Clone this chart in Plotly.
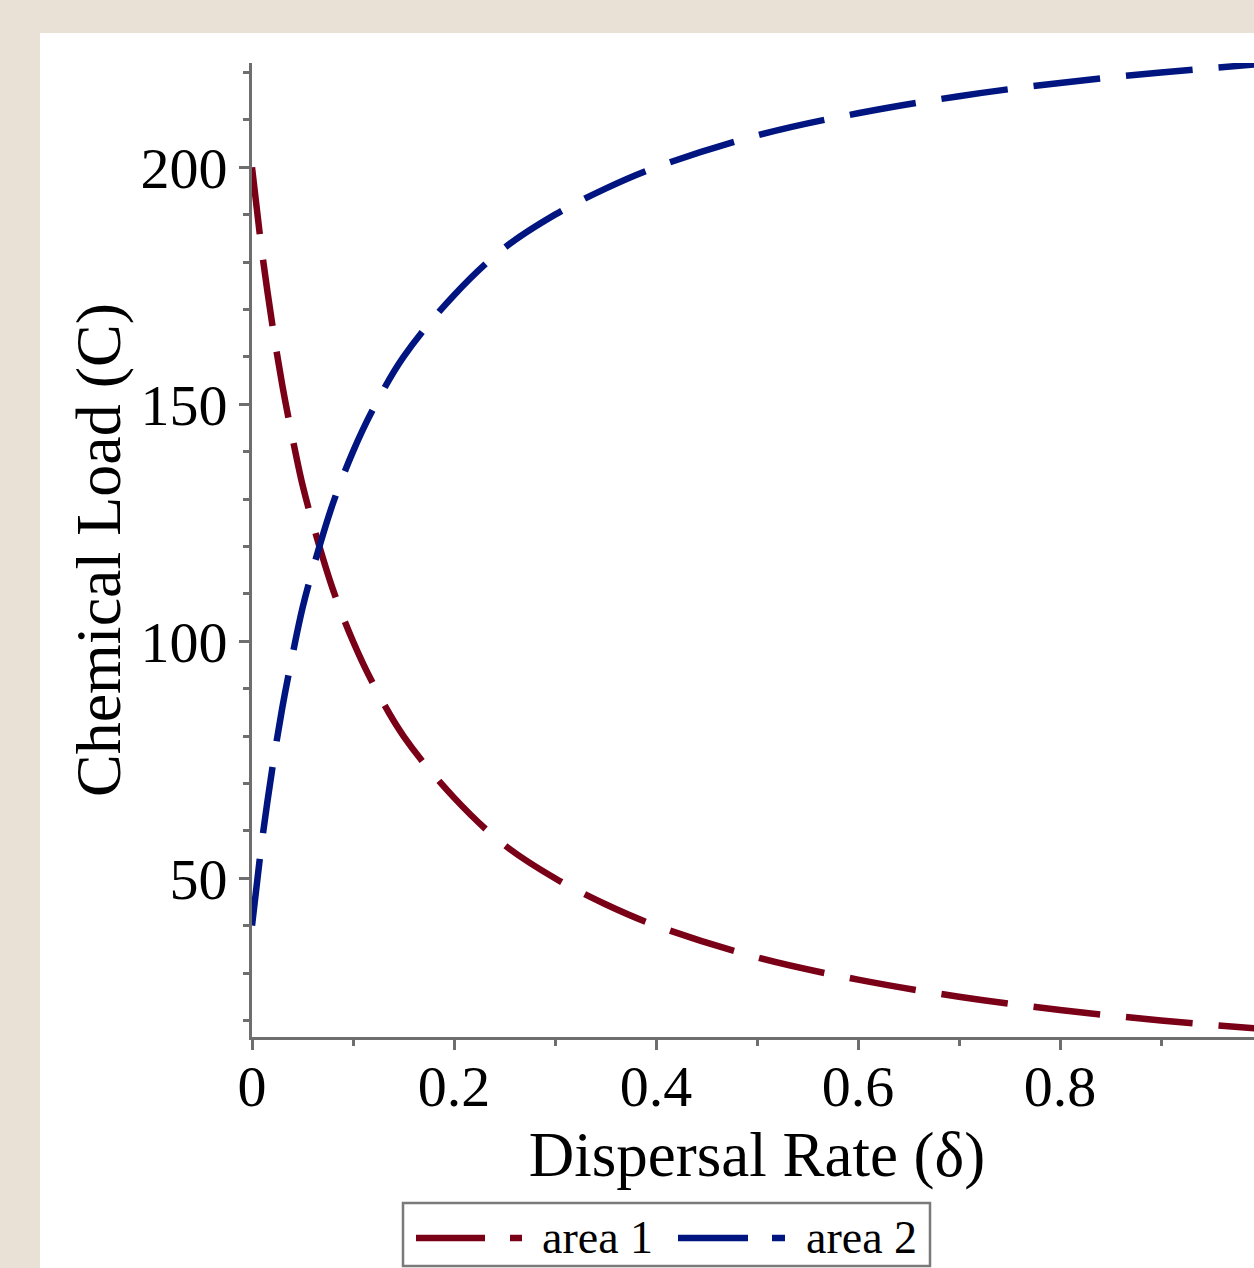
import plotly.graph_objects as go

# ---- data ----
delta = [0.0, 0.01, 0.02, 0.03, 0.04, 0.05, 0.06, 0.08, 0.10, 0.12, 0.15, 0.20,
         0.25, 0.30, 0.35, 0.40, 0.50, 0.60, 0.70, 0.80, 0.90, 1.00]
area1 = [200.0, 182.0, 167.0, 154.0, 143.0, 133.0, 125.0, 111.0, 100.0, 91.0, 80.0, 67.0,
         57.0, 50.0, 44.5, 40.0, 33.3, 28.6, 25.0, 22.2, 20.0, 18.2]
area2 = [40.0, 58.0, 73.0, 86.0, 97.0, 107.0, 115.0, 129.0, 140.0, 149.0, 160.0, 173.0,
         183.0, 190.0, 195.5, 200.0, 206.7, 211.4, 215.0, 217.8, 220.0, 221.8]

series_names = ["area 1", "area 2"]
x_ticks = [0, 0.2, 0.4, 0.6, 0.8, 1.0]
x_tick_labels = ["0", "0.2", "0.4", "0.6", "0.8", "1"]
y_ticks = [50, 100, 150, 200]
y_tick_labels = ["50", "100", "150", "200"]

RED = "#7A0018"
BLUE = "#00157F"
AXIS = "#6E6E6E"
BEIGE = "#EAE1D6"
FONT = "Liberation Serif"
DASH = "67px,26px"

fig = go.Figure()
fig.add_trace(go.Scatter(x=delta, y=area1, mode="lines", name=series_names[0],
                         line=dict(color=RED, width=6.5, dash=DASH, shape="spline", smoothing=1.0),
                         showlegend=False))
fig.add_trace(go.Scatter(x=delta, y=area2, mode="lines", name=series_names[1],
                         line=dict(color=BLUE, width=6.5, dash=DASH, shape="spline", smoothing=1.0),
                         showlegend=False))

W, H = 1262, 1268
L, R, T, B = 252, 0, 63, 231
pw, ph = W - L - R, H - T - B

def px(xp):
    return (xp - L) / pw

def py(yp):
    return (H - B - yp) / ph

shapes = []
# white panel over beige background
shapes.append(dict(type="rect", xref="paper", yref="paper", x0=px(40), x1=px(1320),
                   y0=py(1320), y1=py(33), fillcolor="white", line=dict(width=0), layer="below"))
# legend box
shapes.append(dict(type="rect", xref="paper", yref="paper", x0=px(403), x1=px(930),
                   y0=py(1266), y1=py(1203), fillcolor="white",
                   line=dict(color="#7A7A7A", width=2.5)))
ly = py(1238)
for (a, b, c, d, col) in [(416, 485, 510, 522, RED), (678, 748, 772, 785, BLUE)]:
    shapes.append(dict(type="line", xref="paper", yref="paper", x0=px(a), x1=px(b), y0=ly, y1=ly,
                       line=dict(color=col, width=6.5)))
    shapes.append(dict(type="line", xref="paper", yref="paper", x0=px(c), x1=px(d), y0=ly, y1=ly,
                       line=dict(color=col, width=6.5)))

annotations = []
for name, xl in zip(series_names, [540, 804]):
    annotations.append(dict(text=name, xref="paper", yref="paper", x=px(xl), y=py(1237),
                            xanchor="left", yanchor="middle", showarrow=False,
                            font=dict(family=FONT, size=46, color="black")))

fig.update_layout(
    width=W, height=H,
    margin=dict(l=L, r=R, t=T, b=B, pad=0),
    paper_bgcolor=BEIGE,
    plot_bgcolor="white",
    font=dict(family=FONT, color="black"),
    shapes=shapes,
    annotations=annotations,
    showlegend=False,
)
fig.update_xaxes(
    range=[0, pw / 1010.0], showgrid=False, zeroline=False,
    showline=True, linecolor=AXIS, linewidth=3,
    tickmode="array", tickvals=x_ticks, ticktext=x_tick_labels,
    ticks="outside", ticklen=10, tickwidth=3, tickcolor=AXIS,
    minor=dict(dtick=0.1, tick0=0, ticks="outside", ticklen=6, tickwidth=3, tickcolor=AXIS),
    tickfont=dict(family=FONT, size=58, color="black"),
    ticklabelstandoff=-14,
    title=dict(text="Dispersal Rate (δ)", font=dict(family=FONT, size=63, color="black"), standoff=15),
)
fig.update_yaxes(
    range=[16.5, 222], showgrid=False, zeroline=False,
    showline=True, linecolor=AXIS, linewidth=3,
    tickmode="array", tickvals=y_ticks, ticktext=y_tick_labels,
    ticks="outside", ticklen=10, tickwidth=3, tickcolor=AXIS,
    minor=dict(dtick=10, tick0=0, ticks="outside", ticklen=6, tickwidth=3, tickcolor=AXIS),
    tickfont=dict(family=FONT, size=58, color="black"),
    title=dict(text="Chemical Load (C)", font=dict(family=FONT, size=64, color="black"), standoff=0),
)

fig.write_html(
    "out.html",
    config={"displayModeBar": False},
    post_script="document.body.style.margin='0';document.body.style.overflow='hidden';"
                "document.body.style.background='" + BEIGE + "';",
)
